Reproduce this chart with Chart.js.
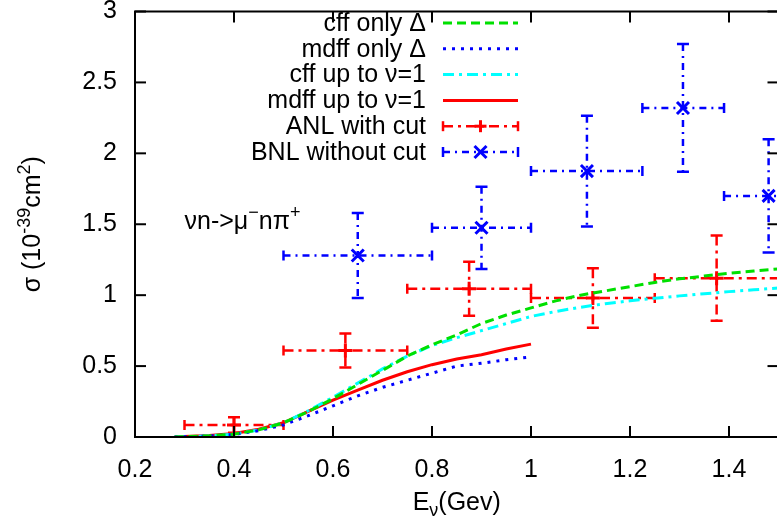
<!DOCTYPE html>
<html>
<head>
<meta charset="utf-8">
<script src="https://cdn.jsdelivr.net/npm/chart.js@4.4.0/dist/chart.umd.min.js"></script>
<style>
html, body { margin: 0; padding: 0; background: #fff; overflow: hidden; }
</style>
</head>
<body>
<canvas id="chart" width="790" height="525"></canvas>
<script>
// energies for the model curves (GeV)
var curveX = [0.28, 0.3, 0.35, 0.4, 0.45, 0.5, 0.55, 0.6, 0.65, 0.7, 0.75, 0.8, 0.85, 0.9, 0.95, 1.0,
              1.05, 1.1, 1.15, 1.2, 1.25, 1.3, 1.35, 1.4, 1.45, 1.5];
var cffDelta  = [0, 0.002, 0.008, 0.02, 0.05, 0.1, 0.18, 0.27, 0.37, 0.47, 0.57, 0.65, 0.72, 0.8, 0.86, 0.91,
                 0.96, 1.0, 1.03, 1.06, 1.09, 1.115, 1.135, 1.155, 1.17, 1.185];
var mdffDelta = [0, 0.002, 0.007, 0.018, 0.045, 0.085, 0.15, 0.22, 0.29, 0.35, 0.4, 0.45, 0.5, 0.52, 0.545, 0.565];
var cffNu     = [0, 0.002, 0.008, 0.02, 0.05, 0.1, 0.185, 0.28, 0.38, 0.48, 0.57, 0.645, 0.7, 0.75, 0.8, 0.85,
                 0.885, 0.915, 0.94, 0.96, 0.978, 0.995, 1.01, 1.025, 1.038, 1.05];
var mdffNu    = [0, 0.003, 0.01, 0.025, 0.055, 0.1, 0.18, 0.26, 0.33, 0.4, 0.46, 0.51, 0.55, 0.58, 0.62, 0.655];

// ANL with cut
var anlX     = [0.4, 0.625, 0.875, 1.125, 1.375];
var anlXLow  = [0.3, 0.5, 0.75, 1.0, 1.25];
var anlXHigh = [0.5, 0.75, 1.0, 1.25, 1.5];
var anlY     = [0.085, 0.61, 1.045, 0.98, 1.12];
var anlYErr  = [0.055, 0.12, 0.19, 0.21, 0.3];

// BNL without cut
var bnlX     = [0.65, 0.9, 1.113, 1.307, 1.48];
var bnlXLow  = [0.5, 0.8, 1.0, 1.225, 1.39];
var bnlXHigh = [0.8, 1.0, 1.225, 1.39, 1.6];
var bnlY     = [1.28, 1.475, 1.875, 2.32, 1.7];
var bnlYErr  = [0.3, 0.29, 0.39, 0.45, 0.4];

var xTicks = [0.2, 0.4, 0.6, 0.8, 1, 1.2, 1.4];
var yTicks = [0, 0.5, 1, 1.5, 2, 2.5, 3];

var FONT = '"Liberation Sans", Arial, sans-serif';
var FS = 25;

function pts(xs, ys) {
    return ys.map(function (y, i) { return { x: xs[i], y: y }; });
}

function line(ctx, x1, y1, x2, y2) {
    ctx.beginPath(); ctx.moveTo(x1, y1); ctx.lineTo(x2, y2); ctx.stroke();
}

// text with sup (1) / sub (-1) pieces
function richWidth(ctx, parts) {
    var w = 0;
    parts.forEach(function (p) {
        ctx.font = (p[1] ? FS * 0.72 : FS) + 'px ' + FONT;
        w += ctx.measureText(p[0]).width;
    });
    return w;
}
function drawRich(ctx, parts, x, y) {
    parts.forEach(function (p) {
        ctx.font = (p[1] ? FS * 0.72 : FS) + 'px ' + FONT;
        var dy = p[1] === 1 ? -FS * 0.42 : (p[1] === -1 ? FS * 0.22 : 0);
        ctx.fillText(p[0], x, y + dy);
        x += ctx.measureText(p[0]).width;
    });
}

function errorBars(ctx, sx, sy, xs, ys, xlo, xhi, yerr, color, dash) {
    ctx.strokeStyle = color;
    ctx.lineWidth = 2.5;
    for (var i = 0; i < xs.length; i++) {
        var px = sx.getPixelForValue(xs[i]), py = sy.getPixelForValue(ys[i]);
        var l = sx.getPixelForValue(xlo[i]), r = sx.getPixelForValue(xhi[i]);
        var t = sy.getPixelForValue(ys[i] + yerr[i]), b = sy.getPixelForValue(ys[i] - yerr[i]);
        ctx.setLineDash(dash);
        line(ctx, l, py, r, py);
        line(ctx, px, t, px, b);
        ctx.setLineDash([]);
        line(ctx, l, py - 5, l, py + 5);
        line(ctx, r, py - 5, r, py + 5);
        line(ctx, px - 6, t, px + 6, t);
        line(ctx, px - 6, b, px + 6, b);
    }
}

var gnuplotLook = {
    id: 'gnuplotLook',
    beforeDatasetsDraw: function (chart) {
        var ctx = chart.ctx, a = chart.chartArea;
        var sx = chart.scales.x, sy = chart.scales.y;
        ctx.save();
        ctx.beginPath(); ctx.rect(a.left, a.top, a.right - a.left, a.bottom - a.top); ctx.clip();
        errorBars(ctx, sx, sy, anlX, anlY, anlXLow, anlXHigh, anlYErr, '#ff0000', [10, 5, 3, 5]);
        errorBars(ctx, sx, sy, bnlX, bnlY, bnlXLow, bnlXHigh, bnlYErr, '#0000ff', [7, 5, 2, 5]);
        ctx.restore();
    },
    afterDraw: function (chart) {
        var ctx = chart.ctx, a = chart.chartArea;
        var sx = chart.scales.x, sy = chart.scales.y;
        ctx.save();
        // frame and inward ticks on all sides
        ctx.strokeStyle = '#000';
        ctx.lineWidth = 2;
        ctx.setLineDash([]);
        ctx.strokeRect(a.left, a.top, a.right - a.left, a.bottom - a.top);
        xTicks.forEach(function (v) {
            var p = sx.getPixelForValue(v);
            line(ctx, p, a.bottom, p, a.bottom - 11);
            line(ctx, p, a.top, p, a.top + 11);
        });
        yTicks.forEach(function (v) {
            var p = sy.getPixelForValue(v);
            line(ctx, a.left, p, a.left + 11, p);
            line(ctx, a.right, p, a.right - 11, p);
        });

        ctx.fillStyle = '#000';
        ctx.textBaseline = 'alphabetic';
        ctx.textAlign = 'left';

        // x title
        var xt = [['E', 0], ['\u03bd', -1], ['(Gev)', 0]];
        drawRich(ctx, xt, (a.left + a.right) / 2 - richWidth(ctx, xt) / 2, 510);

        // y title
        var yt = [['\u03c3 (10', 0], ['-39', 1], ['cm', 0], ['2', 1], [')', 0]];
        ctx.save();
        ctx.translate(40, (a.top + a.bottom) / 2);
        ctx.rotate(-Math.PI / 2);
        drawRich(ctx, yt, -richWidth(ctx, yt) / 2, 0);
        ctx.restore();

        // reaction label
        drawRich(ctx, [['\u03bdn->\u03bc', 0], ['\u2212', 1], ['n\u03c0', 0], ['+', 1]],
                 sx.getPixelForValue(0.3), sy.getPixelForValue(1.47));

        // key
        ctx.font = FS + 'px ' + FONT;
        ctx.textAlign = 'right';
        ctx.textBaseline = 'middle';
        var x0 = 443, x1 = 518;
        chart.data.datasets.forEach(function (ds, i) {
            var y = 23 + i * 25.8;
            ctx.fillStyle = '#000';
            ctx.fillText(ds.label, 426, y + 1);
            ctx.strokeStyle = ds.borderColor;
            if (ds.errDash) {
                ctx.lineWidth = 2.5;
                ctx.setLineDash(ds.errDash);
                line(ctx, x0, y, x1, y);
                ctx.setLineDash([]);
                line(ctx, x0, y - 5, x0, y + 5);
                line(ctx, x1, y - 5, x1, y + 5);
                var m = (x0 + x1) / 2, r = 6;
                ctx.lineWidth = 3;
                if (ds.pointStyle === 'cross') {
                    line(ctx, m - r, y, m + r, y); line(ctx, m, y - r, m, y + r);
                } else {
                    line(ctx, m - r, y - r, m + r, y + r); line(ctx, m - r, y + r, m + r, y - r);
                }
            } else {
                ctx.lineWidth = ds.borderWidth;
                ctx.setLineDash(ds.borderDash || []);
                line(ctx, x0, y, x1, y);
            }
        });
        ctx.restore();
    }
};

function plainLabel(v) { return String(v); }

var ctx = document.getElementById('chart').getContext('2d');
var myChart = new Chart(ctx, {
    type: 'line',
    data: {
        datasets: [{
            label: 'cff only \u0394',
            data: pts(curveX, cffDelta),
            borderColor: '#00e000',
            borderWidth: 3,
            borderDash: [9, 5],
            pointRadius: 0
        },
        {
            label: 'mdff only \u0394',
            data: pts(curveX, mdffDelta),
            borderColor: '#0000ff',
            borderWidth: 3,
            borderDash: [3, 6],
            pointRadius: 0
        },
        {
            label: 'cff up to \u03bd=1',
            data: pts(curveX, cffNu),
            borderColor: '#00ffff',
            borderWidth: 3,
            borderDash: [11, 5, 3, 5],
            pointRadius: 0
        },
        {
            label: 'mdff up to \u03bd=1',
            data: pts(curveX, mdffNu),
            borderColor: '#ff0000',
            borderWidth: 3,
            pointRadius: 0
        },
        {
            type: 'scatter',
            label: 'ANL with cut',
            data: pts(anlX, anlY),
            borderColor: '#ff0000',
            backgroundColor: '#ff0000',
            pointStyle: 'cross',
            pointRadius: 7,
            borderWidth: 3,
            showLine: false,
            errDash: [10, 5, 3, 5]
        },
        {
            type: 'scatter',
            label: 'BNL without cut',
            data: pts(bnlX, bnlY),
            borderColor: '#0000ff',
            backgroundColor: '#0000ff',
            pointStyle: 'crossRot',
            pointRadius: 8.5,
            borderWidth: 3,
            showLine: false,
            errDash: [7, 5, 2, 5]
        }]
    },
    options: {
        responsive: false,
        animation: false,
        events: [],
        layout: { padding: { top: 9, right: 8, left: 0, bottom: 0 } },
        plugins: {
            legend: { display: false },
            tooltip: { enabled: false }
        },
        scales: {
            x: {
                type: 'linear',
                min: 0.2,
                max: 1.5,
                afterBuildTicks: function (s) { s.ticks = xTicks.map(function (v) { return { value: v }; }); },
                afterFit: function (s) { s.height = 88; s.paddingLeft = 0; s.paddingRight = 0; },
                grid: { display: false, drawTicks: false },
                border: { display: false },
                ticks: { color: '#000', padding: 18, font: { family: FONT, size: FS }, callback: plainLabel }
            },
            y: {
                type: 'linear',
                min: 0,
                max: 3,
                afterBuildTicks: function (s) { s.ticks = yTicks.map(function (v) { return { value: v }; }); },
                afterFit: function (s) { s.width = 135; s.paddingTop = 0; s.paddingBottom = 0; },
                grid: { display: false, drawTicks: false },
                border: { display: false },
                ticks: { color: '#000', padding: 18, font: { family: FONT, size: FS }, callback: plainLabel }
            }
        }
    },
    plugins: [gnuplotLook]
});
</script>
</body>
</html>
